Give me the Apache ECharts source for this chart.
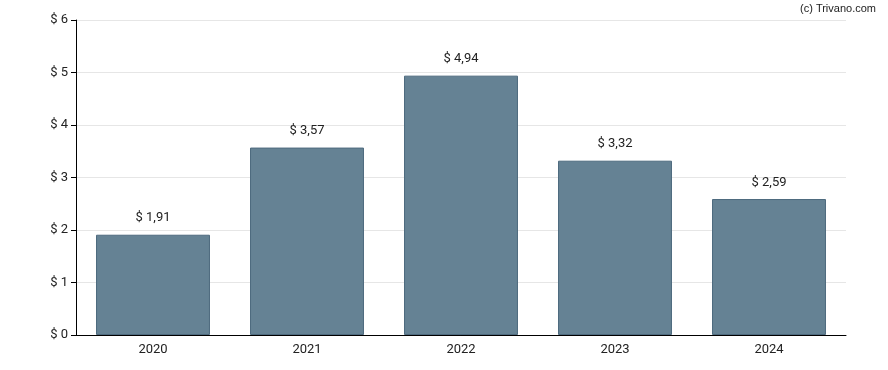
<!DOCTYPE html>
<html><head><meta charset="utf-8">
<script src="https://cdn.jsdelivr.net/npm/echarts@6/dist/echarts.min.js"></script>
<style>html,body{margin:0;padding:0;background:#fff}#c{width:888px;height:370px}</style>
</head><body><div id="c"></div>
<script>
var categories = ["2020", "2021", "2022", "2023", "2024"];
var values = [1.91, 3.57, 4.94, 3.32, 2.59];
var yTicks = [0, 1, 2, 3, 4, 5, 6];

var chart = echarts.init(document.getElementById('c'), null, {renderer: 'canvas'});
chart.setOption({
  animation: false,
  textStyle: {fontFamily: 'Roboto'},
  graphic: [{
    type: 'text', right: 12, top: 3,
    style: {text: '(c) Trivano.com', font: '11px "Liberation Sans", Arial', fill: '#222'}
  }],
  grid: {left: 76, right: 42, top: 20, bottom: 35},
  xAxis: {
    type: 'category', data: categories,
    axisLine: {lineStyle: {color: '#000', width: 1}},
    axisTick: {alignWithLabel: true, length: 5, lineStyle: {color: '#000'}},
    axisLabel: {color: '#222', fontSize: 13, margin: 8}
  },
  yAxis: {
    type: 'value', min: yTicks[0], max: yTicks[yTicks.length - 1], interval: 1,
    axisLine: {show: true, lineStyle: {color: '#000', width: 1}},
    axisTick: {show: true, length: 5, lineStyle: {color: '#000'}},
    axisLabel: {color: '#222', fontSize: 13, margin: 8, formatter: function (v) { return '$ ' + v; }},
    splitLine: {lineStyle: {color: '#e6e6e6'}}
  },
  series: [{
    type: 'bar', data: values, barCategoryGap: '26%',
    itemStyle: {color: '#658294', borderColor: '#4e6a7e', borderWidth: 1},
    label: {
      show: true, position: 'top', distance: 10, color: '#222', fontSize: 13,
      formatter: function (p) { return '$ ' + p.value.toFixed(2).replace('.', ','); }
    }
  }]
});
</script></body></html>
